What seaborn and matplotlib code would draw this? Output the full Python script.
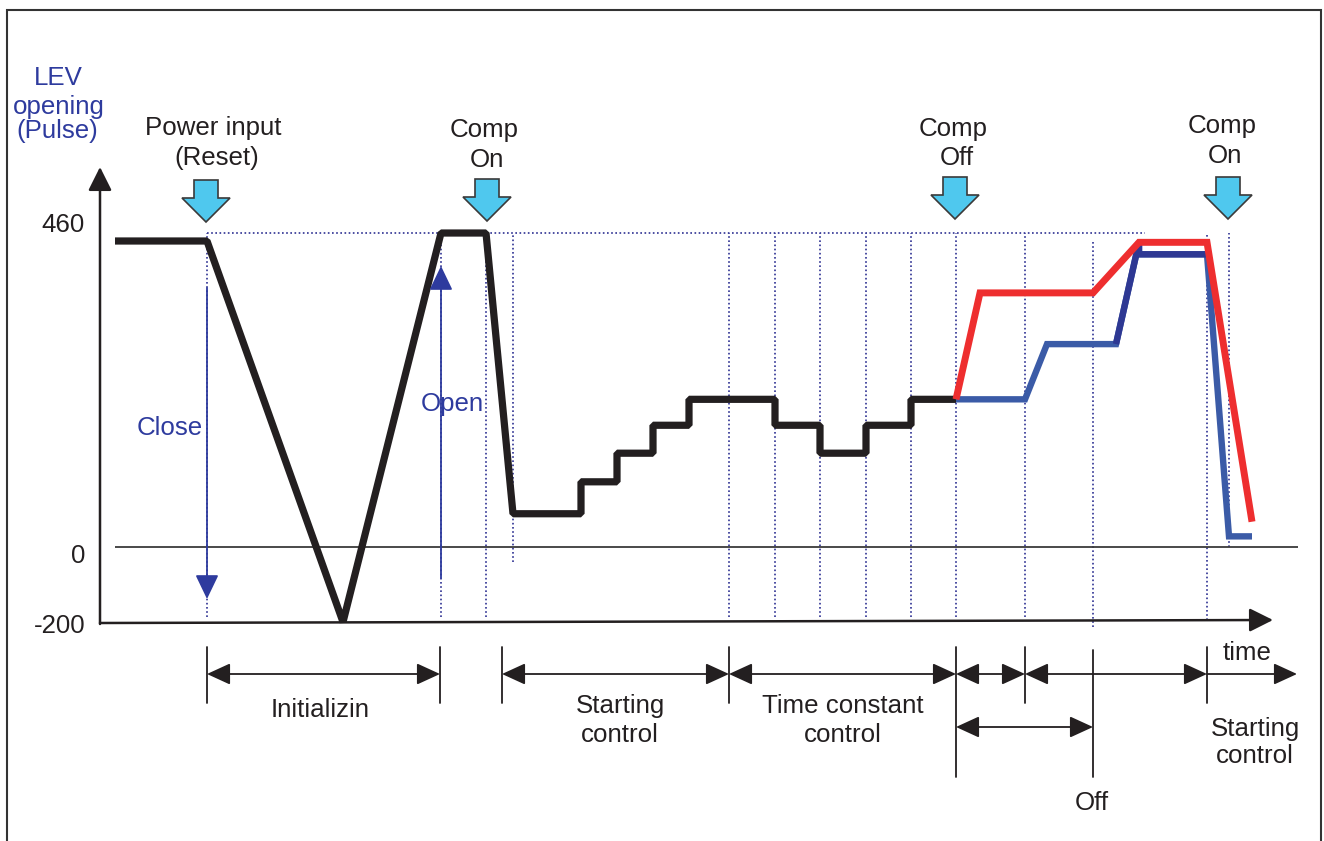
import numpy as np
import pandas as pd
import matplotlib
matplotlib.use("Agg")
import matplotlib.pyplot as plt
import seaborn as sns
from matplotlib.patches import Polygon, Rectangle

# ---------------- data (time in arbitrary units, LEV opening in pulses) ----------------
black_t = [115, 207, 343, 441, 486, 513, 581, 581, 617, 617, 653, 653, 689, 689,
           775, 775, 820, 820, 866, 866, 911, 911, 956]
black_v = [460, 460, -200, 472, 472, 50, 50, 98, 98, 141, 141, 183, 183, 222,
           222, 183, 183, 141, 141, 183, 183, 222, 222]

red_t = [956, 980, 1093, 1139, 1207, 1252]
red_v = [222, 382, 382, 458, 458, 38]

blue_t = [956, 1025, 1047, 1116, 1139, 1139, 1207, 1229, 1252]
blue_v = [222, 222, 305, 305, 458, 440, 440, 16, 16]

guide_t = [207, 441, 486, 513, 729, 775, 820, 866, 911, 956, 1025, 1093, 1207, 1229]
guide_lo = [-187, -187, -187, -40, -187, -187, -187, -187, -187, -187, -187, -213, -195, 0]
guide_hi = [472, 472, 472, 472, 472, 472, 472, 472, 472, 472, 472, 462, 472, 472]

tick_values = ["460", "0", "-200"]

W, H = 1324, 841
BLACK = "#231F20"
NAVY = "#2E3B9E"
DOT = "#2E3192"
CYAN = "#4FC8EE"

sns.set_theme(style="white")
plt.rcParams["font.family"] = ["Liberation Sans", "DejaVu Sans"]
FS = 18.6

fig = plt.figure(figsize=(W / 100, H / 100), dpi=100)
fig.patch.set_facecolor("white")
ax = fig.add_axes([0, 0, 1, 1])
ax.set_facecolor("white")

# piecewise-linear value axis (diagram compresses the negative range)
V = np.array([-5000.0, -200.0, 0.0, 460.0, 5000.0])
PY = np.array([622 + 4800 * 0.375, 622, 547, 241, 241 - 4540 * (306 / 460)])
def fwd(v):
    return np.interp(v, V, -PY)
def inv(t):
    return np.interp(t, -PY, V)
ax.set_yscale("function", functions=(fwd, inv))
ax.set_xlim(0, W)
ax.set_ylim(inv(-H), inv(0))
ax.axis("off")

# guides
ax.hlines(472, 207, 1145, colors=DOT, lw=1.2, linestyles=(0, (1, 1.5)))
for t, lo, hi in zip(guide_t, guide_lo, guide_hi):
    ax.vlines(t, lo, hi, colors=DOT, lw=1.2, linestyles=(0, (1, 1.5)))

# zero line
ax.hlines(0, 115, 1298, colors="#3a3a3a", lw=1.3)

# series
sns.lineplot(x=black_t, y=black_v, sort=False, estimator=None, ax=ax, color=BLACK,
             lw=5.2, solid_joinstyle="bevel", solid_capstyle="butt")
sns.lineplot(x=blue_t, y=blue_v, sort=False, estimator=None, ax=ax, color="#3B5BA7",
             lw=4.6, solid_joinstyle="miter", solid_capstyle="butt")
sns.lineplot(x=blue_t[3:7], y=blue_v[3:7], sort=False, estimator=None, ax=ax, color="#2E3893",
             lw=4.6, solid_joinstyle="miter", solid_capstyle="butt")
sns.lineplot(x=red_t, y=red_v, sort=False, estimator=None, ax=ax, color="#EE2E2F",
             lw=5.0, solid_joinstyle="miter", solid_capstyle="butt")
ax.set_xlim(0, W)
ax.set_ylim(inv(-H), inv(0))

# ---------------- annotations in figure pixels ----------------
def fp(px, py):
    return (px, H - py)

def arrow(p0, p1, style="-|>", color=BLACK, lw=1.2, hl=1.44, hw=0.66):
    ax.annotate("", xy=fp(*p1), xytext=fp(*p0), xycoords="figure pixels",
                textcoords="figure pixels",
                arrowprops=dict(arrowstyle=f"{style},head_length={hl},head_width={hw}",
                                mutation_scale=10, lw=lw, color=color,
                                shrinkA=0, shrinkB=0))

def line(p0, p1, color=BLACK, lw=1.2):
    fig.add_artist(plt.Line2D([p0[0] / W, p1[0] / W], [1 - p0[1] / H, 1 - p1[1] / H],
                              transform=fig.transFigure, color=color, lw=lw))

def txt(s, px, py, color=BLACK, ha="center"):
    fig.text(px / W, 1 - py / H, s, ha=ha, va="baseline", fontsize=FS, color=color)

# border
fig.add_artist(Rectangle((7 / W, -0.02), (1321 - 7) / W, 1 - 10 / H + 0.02,
                         transform=fig.transFigure, fill=False, ec="#333333", lw=1.5))

# axes
arrow((100, 624), (100, 167), lw=1.8, hl=1.44, hw=0.72)
arrow((100, 623), (1273, 620), lw=1.8, hl=1.44, hw=0.72)

# tick labels
for s, py in zip(tick_values, [232, 563, 633]):
    txt(s, 85, py, ha="right")

# y-axis title
txt("LEV", 58, 85, NAVY)
txt("opening", 59, 114, NAVY)
txt("(Pulse)", 57, 138, NAVY)

# close / open arrows
arrow((207, 288), (207, 599), color=NAVY, lw=1.3, hl=1.5, hw=0.72)
arrow((441, 578), (441, 266), color=NAVY, lw=1.3, hl=1.5, hw=0.72)
txt("Close", 170, 435, NAVY)
txt("Open", 452, 411, NAVY)

# event labels with cyan block arrows
events = [("Power input", "(Reset)", 213, 217, 135, 165, 206, 180, 222),
          ("Comp", "On", 484, 487, 137, 167, 487, 179, 221),
          ("Comp", "Off", 953, 957, 136, 165, 955, 177, 219),
          ("Comp", "On", 1222, 1225, 133, 163, 1228, 177, 219)]
for l1, l2, x1, x2, y1, y2, cx, top, tip in events:
    txt(l1, x1, y1)
    txt(l2, x2, y2)
    hy = top + 18
    pts = [(cx - 12, top), (cx + 12, top), (cx + 12, hy), (cx + 24, hy), (cx, tip),
           (cx - 24, hy), (cx - 12, hy)]
    fig.add_artist(Polygon([(x / W, 1 - y / H) for x, y in pts], closed=True,
                           transform=fig.transFigure, fc=CYAN, ec="#3a3a3a", lw=1.2))

# phase dimension lines
for x, y0, y1 in [(207, 647, 703), (440, 647, 703), (502, 647, 703), (729, 647, 703),
                  (956, 647, 777), (1025, 647, 703), (1093, 650, 777), (1207, 647, 703)]:
    line((x, y0), (x, y1), lw=1.3)
for a, b in [(207, 440), (502, 729), (729, 956), (956, 1025), (1025, 1207)]:
    arrow((a, 674), (b, 674), style="<|-|>", lw=1.3)
arrow((1207, 674), (1297, 674), style="-|>", lw=1.3)
arrow((956, 727), (1093, 727), style="<|-|>", lw=1.3)

txt("Initializin", 320, 717)
txt("Starting", 620, 713)
txt("control", 620, 742)
txt("Time constant", 843, 713)
txt("control", 843, 742)
txt("time", 1247, 660)
txt("Starting", 1255, 736)
txt("control", 1255, 763)
txt("Off", 1092, 810)

fig.savefig("out.png", dpi=100)
